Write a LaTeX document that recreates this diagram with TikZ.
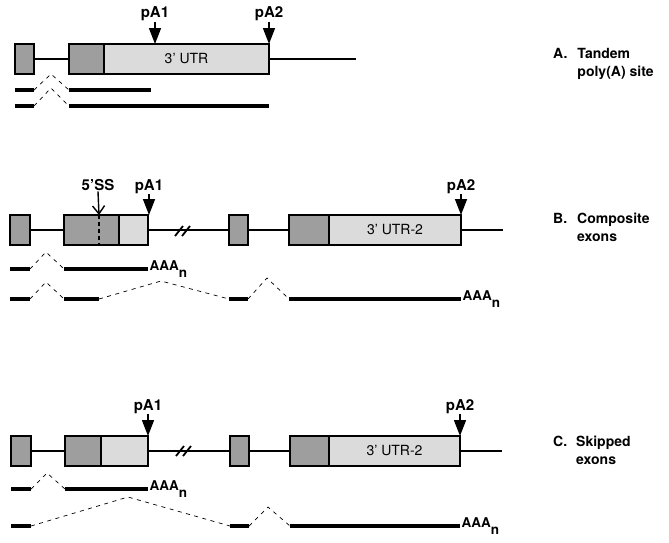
\documentclass[tikz,border=0pt]{standalone}
\usepackage{fontspec}
\setmainfont{TeX Gyre Heros}
\usetikzlibrary{arrows.meta}
\definecolor{exdark}{gray}{0.62}
\definecolor{exlight}{gray}{0.86}
\begin{document}
\begin{tikzpicture}[x=1pt,y=-1pt,
 exon/.style={draw, line width=1.2pt, fill=exdark, inner sep=0pt, outer sep=0pt, minimum height=30pt, anchor=north west},
 utr/.style={exon, fill=exlight, font=\fontsize{14}{16}\selectfont},
 intron/.style={line width=2pt},
 mrna/.style={line width=4pt},
 splice/.style={line width=0.7pt, dash pattern=on 4pt off 4.5pt},
 pa/.style={line width=1.6pt, -{Triangle[width=12pt,length=16pt]}},
 lab/.style={font=\bfseries\fontsize{15}{17}\selectfont, inner sep=1pt, anchor=base},
 polya/.style={font=\bfseries\fontsize{13.5}{15}\selectfont, inner sep=1.5pt, anchor=west},
 brk/.style={line width=1.8pt},
 ssdash/.style={line width=1.4pt, dash pattern=on 4pt off 3pt},
 ssarrow/.style={line width=1.4pt, -{Straight Barb[width=12pt,length=8pt]}},
 side/.style={font=\bfseries\fontsize{14}{18.5}\selectfont, inner sep=0pt, anchor=base west},
]
\path[fill=white, use as bounding box] (0,0) rectangle (669,542);

% ---------------- A ----------------
\node[exon, minimum width=19pt] (a1) at (15,44) {};
\node[exon, minimum width=35pt] (a2d) at (69,44) {};
\node[utr, minimum width=165pt] (a2u) at (104,44) {3' UTR};
\coordinate (aend) at (356,59);
\draw[intron] (a1.east) -- (a2d.west);
\draw[intron] (a2u.east) -- (aend);
\node[lab] (pa1) at (155,17.5) {pA1};
\node[lab] (pa2) at (269,17.5) {pA2};
\draw[pa] (pa1.south) -- (pa1.south |- a2u.north);
\draw[pa] (pa2.south) -- (pa2.south |- a2u.north);
\coordinate (ra1) at (0,90);
\coordinate (ra2) at (0,106);
\coordinate (a1stop) at (151,90);
\draw[mrna] (a1.west |- ra1) -- (a1.east |- ra1);
\draw[mrna] (a2d.west |- ra1) -- (a1stop);
\draw[splice] (a1.east |- ra1) -- (51,74) -- (a2d.west |- ra1);
\draw[mrna] (a1.west |- ra2) -- (a1.east |- ra2);
\draw[mrna] (a2d.west |- ra2) -- (a2u.east |- ra2);
\draw[splice] (a1.east |- ra2) -- (51,88) -- (a2d.west |- ra2);
\node[side] (la) at (553,58) {\begin{tabular}[t]{@{}l@{\hspace{10pt}}l@{}}A.&Tandem\\&poly(A) site\end{tabular}};

% ---------------- B ----------------
\node[exon, minimum width=20pt] (b1) at (10,215) {};
\node[exon, minimum width=55pt] (b2d) at (64,215) {};
\node[utr, minimum width=29pt] (b2u) at (119,215) {};
\node[exon, minimum width=19pt] (b3) at (229,215) {};
\node[exon, minimum width=40pt] (b4d) at (289,215) {};
\node[utr, minimum width=132pt] (b4u) at (329,215) {3' UTR-2};
\coordinate (bend) at (503,230);
\draw[intron] (b1.east) -- (b2d.west);
\draw[intron] (b2u.east) -- (b3.west);
\draw[intron] (b3.east) -- (b4d.west);
\draw[intron] (b4u.east) -- (bend);
\draw[brk] (175,236) -- (183,226) (182,236) -- (190,226);
\coordinate (ss) at ([xshift=35pt]b2d.north west);
\draw[ssdash] (ss) -- ([xshift=35pt]b2d.south west);
\node[lab] (ssl) at (98,190) {5'SS};
\draw[ssarrow] (ssl.south) -- (ss);
\node[lab] (pb1) at (149,190) {pA1};
\node[lab] (pb2) at (461,190) {pA2};
\draw[pa] (pb1.south) -- (pb1.south |- b2u.north);
\draw[pa] (pb2.south) -- (pb2.south |- b4u.north);
\coordinate (rb1) at (0,269);
\coordinate (rb2) at (0,299);
\draw[mrna] (b1.west |- rb1) -- (b1.east |- rb1);
\draw[mrna] (b2d.west |- rb1) -- (b2u.east |- rb1);
\draw[splice] (b1.east |- rb1) -- (46,252) -- (b2d.west |- rb1);
\node[polya] (pab1) at (b2u.east |- rb1) {AAA\raisebox{-6.5pt}{n}};
\draw[mrna] (b1.west |- rb2) -- (b1.east |- rb2);
\draw[mrna] (b2d.west |- rb2) -- (ss |- rb2);
\draw[splice] (b1.east |- rb2) -- (46,282) -- (b2d.west |- rb2);
\draw[splice] (ss |- rb2) -- (161,281) -- (b3.west |- rb2);
\draw[mrna] (b3.west |- rb2) -- (b3.east |- rb2);
\draw[splice] (b3.east |- rb2) -- (267,278) -- (b4d.west |- rb2);
\draw[mrna] (b4d.west |- rb2) -- (b4u.east |- rb2);
\node[polya] (pab2) at (b4u.east |- rb2) {AAA\raisebox{-6.5pt}{n}};
\node[side] (lb) at (553,223) {\begin{tabular}[t]{@{}l@{\hspace{10pt}}l@{}}B.&Composite\\&exons\end{tabular}};

% ---------------- C ----------------
\node[exon, minimum width=20pt] (c1) at (11,436) {};
\node[exon, minimum width=36pt] (c2d) at (65,436) {};
\node[utr, minimum width=47pt] (c2u) at (101,436) {};
\node[exon, minimum width=19pt] (c3) at (230,436) {};
\node[exon, minimum width=39pt] (c4d) at (290,436) {};
\node[utr, minimum width=131pt] (c4u) at (329,436) {3' UTR-2};
\coordinate (cend) at (502,451);
\draw[intron] (c1.east) -- (c2d.west);
\draw[intron] (c2u.east) -- (c3.west);
\draw[intron] (c3.east) -- (c4d.west);
\draw[intron] (c4u.east) -- (cend);
\draw[brk] (176,456) -- (184,446) (183,456) -- (191,446);
\node[lab] (pc1) at (148,410) {pA1};
\node[lab] (pc2) at (460,410) {pA2};
\draw[pa] (pc1.south) -- (pc1.south |- c2u.north);
\draw[pa] (pc2.south) -- (pc2.south |- c4u.north);
\coordinate (rc1) at (0,489);
\coordinate (rc2) at (0,526);
\draw[mrna] (c1.west |- rc1) -- (c1.east |- rc1);
\draw[mrna] (c2d.west |- rc1) -- (c2u.east |- rc1);
\draw[splice] (c1.east |- rc1) -- (47,473) -- (c2d.west |- rc1);
\node[polya] (pac1) at (c2u.east |- rc1) {AAA\raisebox{-6.5pt}{n}};
\draw[mrna] (c1.west |- rc2) -- (c1.east |- rc2);
\draw[splice] (c1.east |- rc2) -- (128,497) -- (c3.west |- rc2);
\draw[mrna] (c3.west |- rc2) -- (c3.east |- rc2);
\draw[splice] (c3.east |- rc2) -- (268,507) -- (c4d.west |- rc2);
\draw[mrna] (c4d.west |- rc2) -- (c4u.east |- rc2);
\node[polya] (pac2) at (c4u.east |- rc2) {AAA\raisebox{-6.5pt}{n}};
\node[side] (lc) at (553,446) {\begin{tabular}[t]{@{}l@{\hspace{9pt}}l@{}}C.&Skipped\\&exons\end{tabular}};
\end{tikzpicture}
\end{document}
